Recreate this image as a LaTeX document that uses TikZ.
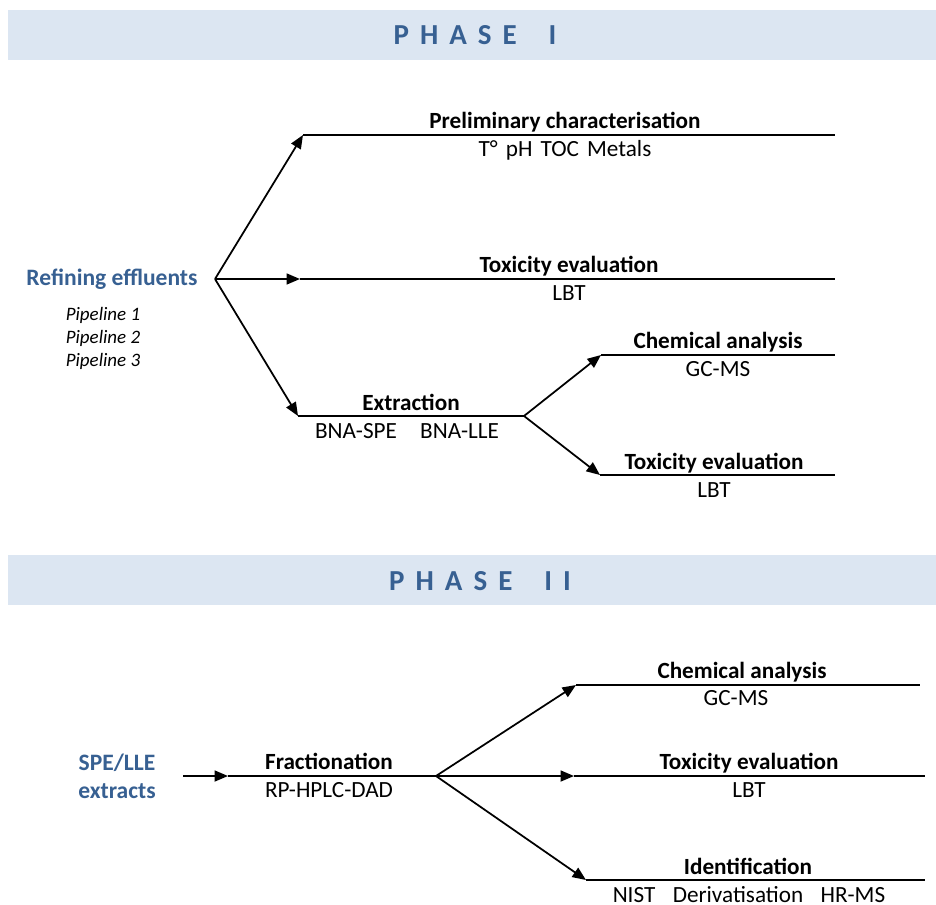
\documentclass[tikz,border=0pt]{standalone}
\usepackage{fontspec}
\setmainfont{Carlito}
\newfontfamily\phasefont[LetterSpace=38]{Carlito}
\usetikzlibrary{positioning, arrows.meta, calc}
\definecolor{bandblue}{RGB}{220,230,242}
\definecolor{titleblue}{RGB}{55,96,146}
\tikzset{
  band/.style={fill=bandblue, draw=none},
  phase/.style={font=\phasefont\fontsize{16.5}{18}\selectfont\bfseries, text=titleblue},
  source/.style={font=\fontsize{13.4}{16}\selectfont\bfseries, text=titleblue, align=center},
  pipe/.style={font=\fontsize{10.8}{13}\selectfont\itshape, align=center},
  head/.style={font=\fontsize{13.2}{15}\selectfont\bfseries, anchor=base, inner sep=0pt},
  sub/.style={font=\fontsize{13.2}{15}\selectfont, anchor=base, inner sep=0pt},
  arrow/.style={line width=1pt, -{Triangle[length=2.7mm, width=2.2mm]}},
  line/.style={line width=1pt}
}

\begin{document}
\begin{tikzpicture}[x=0.02cm, y=-0.02cm]
        \useasboundingbox (0,0) rectangle (936,905);

        % phase I
        \fill[band] (8,10) rectangle (936,60);
        \node[phase] (phaseone) at (475,35) {PHASE\hspace{1.1em}I};

        \node[source, anchor=base] (refin) at (112,286) {Refining effluents};
        \node[pipe, anchor=north] (pipes) at (103,301) {Pipeline 1\\Pipeline 2\\Pipeline 3};

        \coordinate (root) at (215,279);
        \coordinate (prelimA) at (303,135);
        \coordinate (prelimB) at (835,135);
        \coordinate (toxA) at (300,279);
        \coordinate (toxB) at (835,279);
        \coordinate (extrA) at (298,416);
        \coordinate (extrB) at (524,416);
        \coordinate (chemA) at (601,355);
        \coordinate (chemB) at (835,355);
        \coordinate (toxbA) at (600,475);
        \coordinate (toxbB) at (835,475);

        \draw [arrow] (root) -- (prelimA);
        \draw [line] (prelimA) -- (prelimB);
        \draw [arrow] (root) -- (toxA);
        \draw [line] (toxA) -- (toxB);
        \draw [arrow] (root) -- (extrA);
        \draw [line] (extrA) -- (extrB);
        \draw [arrow] (extrB) -- (chemA);
        \draw [line] (chemA) -- (chemB);
        \draw [arrow] (extrB) -- (toxbA);
        \draw [line] (toxbA) -- (toxbB);

        \node[head] (prelimT) at (565,129) {Preliminary characterisation};
        \node[sub] (prelimS) at (565,157) {T°\hspace{0.35em}pH\hspace{0.35em}TOC\hspace{0.35em}Metals};
        \node[head] (toxT) at (569,273) {Toxicity evaluation};
        \node[sub] (toxS) at (569,301) {LBT};
        \node[head] (extrT) at (411,410) {Extraction};
        \node[sub] (extrS) at (407,438) {BNA-SPE\quad BNA-LLE};
        \node[head] (chemT) at (718,349) {Chemical analysis};
        \node[sub] (chemS) at (718,377) {GC-MS};
        \node[head] (toxbT) at (714,469) {Toxicity evaluation};
        \node[sub] (toxbS) at (714,497) {LBT};

        % phase II
        \fill[band] (8,555) rectangle (936,605);
        \node[phase] (phasetwo) at (480,581) {PHASE\hspace{1.1em}II};

        \node[source] (extracts) at (117,776) {SPE/LLE\\extracts};

        \coordinate (fracIn) at (183,776);
        \coordinate (fracA) at (228,776);
        \coordinate (fracB) at (436,776);
        \coordinate (chemcA) at (576,685);
        \coordinate (chemcB) at (920,685);
        \coordinate (toxcA) at (574,776);
        \coordinate (toxcB) at (925,776);
        \coordinate (identA) at (586,880);
        \coordinate (identB) at (925,880);

        \draw [arrow] (fracIn) -- (fracA);
        \draw [line] (fracA) -- (fracB);
        \draw [arrow] (fracB) -- (chemcA);
        \draw [line] (chemcA) -- (chemcB);
        \draw [arrow] (fracB) -- (toxcA);
        \draw [line] (toxcA) -- (toxcB);
        \draw [arrow] (fracB) -- (identA);
        \draw [line] (identA) -- (identB);

        \node[head] (fracT) at (329,769) {Fractionation};
        \node[sub] (fracS) at (329,797) {RP-HPLC-DAD};
        \node[head] (chemcT) at (742,678) {Chemical analysis};
        \node[sub] (chemcS) at (736,705) {GC-MS};
        \node[head] (toxcT) at (749,769) {Toxicity evaluation};
        \node[sub] (toxcS) at (749,797) {LBT};
        \node[head] (identT) at (748,874) {Identification};
        \node[sub] (identS) at (749,902) {NIST\hspace{0.75em}Derivatisation\hspace{0.75em}HR-MS};
\end{tikzpicture}
\end{document}
